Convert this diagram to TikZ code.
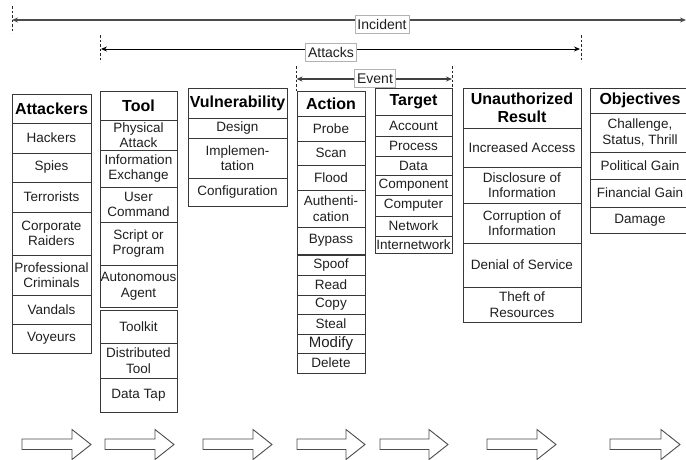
\documentclass[tikz,border=0pt]{standalone}
\usepackage{fontspec}
\setmainfont{Liberation Sans}
\usetikzlibrary{arrows.meta}
\tikzset{
  cell/.style={draw=black!78, line width=0.8pt, inner sep=0pt, outer sep=0pt, align=center,
    text=black!88, font=\fontsize{13.5}{15.5}\selectfont},
  headcell/.style={font=\fontsize{16}{17.5}\selectfont\bfseries, text=black},
  spanline/.style={{Stealth[length=6pt,width=5pt]}-{Stealth[length=6pt,width=5pt]}, line width=0.9pt},
  tick/.style={dashed, dash pattern=on 2.5pt off 2pt, line width=0.7pt, black!85},
  spanlabel/.style={fill=white, draw=black!30, line width=0.5pt, inner xsep=2.5pt, inner ysep=2pt,
    minimum height=18pt, font=\fontsize{14}{15}\selectfont, text=black!88},
  blockarrow/.style={draw=black!70, line width=0.9pt, fill=white}
}
% #1 extra style, #2 name, #3 x1, #4 x2, #5 y1, #6 y2, #7 text
\newcommand\cbox[7][]{%
  \pgfmathsetmacro\cbX{(#3+#4)/2}\pgfmathsetmacro\cbY{(#5+#6)/2}%
  \pgfmathsetmacro\cbW{#4-#3}\pgfmathsetmacro\cbH{#6-#5}%
  \node[cell, minimum width=\cbW pt, minimum height=\cbH pt, #1] (#2) at (\cbX,\cbY) {#7};}
% block arrow from x1 to x2
\newcommand\blkarrow[2]{%
  \pgfmathsetmacro\baH{#2-19}%
  \draw[blockarrow] (#1,439) -- (\baH,439) -- (\baH,429.5) -- (#2,444.5) -- (\baH,459.5) -- (\baH,449.5) -- (#1,449.5) -- cycle;}
\begin{document}
\begin{tikzpicture}[x=1pt,y=-1pt]
\useasboundingbox (0,0) rectangle (686,459);

% ---- span arrows ----
\coordinate (incL) at (12,20); \coordinate (incR) at (686,20);
\draw[tick] (12,6) -- (12,33);
\draw[spanline, black!70, line width=1.1pt] (incL) -- (incR);
\node[spanlabel] (incident) at (382,24.5) {Incident};

\coordinate (attL) at (101,49); \coordinate (attR) at (580,49);
\draw[tick] (100.5,35) -- (100.5,62);
\draw[tick] (581,35) -- (581,62);
\draw[spanline, black] (attL) -- (attR);
\node[spanlabel] (attacks) at (331,52) {Attacks};

\coordinate (evL) at (296.5,79); \coordinate (evR) at (452,79);
\draw[tick] (296,66) -- (296,91);
\draw[tick] (452.5,66) -- (452.5,91);
\draw[spanline, black!75, line width=1.2pt] (evL) -- (evR);
\node[spanlabel] (event) at (375,78.5) {Event};

% ---- Attackers ----
\cbox[headcell]{att0}{12}{91}{94}{123}{Attackers}
\cbox{att1}{12}{91}{123}{153}{Hackers}
\cbox{att2}{12}{91}{153}{182}{Spies}
\cbox{att3}{12}{91}{182}{212}{Terrorists}
\cbox{att4}{12}{91}{212}{255}{Corporate\\Raiders}
\cbox{att5}{12}{91}{255}{295}{Professional\\Criminals}
\cbox{att6}{12}{91}{295}{324}{Vandals}
\cbox{att7}{12}{91}{324}{353}{Voyeurs}

% ---- Tool ----
\cbox[headcell]{tool0}{100}{177}{91}{120}{Tool}
\cbox{tool1}{100}{177}{120}{150}{Physical\\Attack}
\cbox{tool2}{100}{177}{150}{187}{Information\\Exchange}
\cbox{tool3}{100}{177}{187}{222}{User\\Command}
\cbox{tool4}{100}{177}{222}{265}{Script or\\Program}
\cbox{tool5}{100}{177}{265}{307}{Autonomous\\Agent}
\cbox{tool6}{100}{177}{310}{343}{Toolkit}
\cbox{tool7}{100}{177}{343}{378}{Distributed\\Tool}
\cbox{tool8}{100}{177}{378}{412}{Data Tap}

% ---- Vulnerability ----
\cbox[headcell]{vul0}{188}{287}{88}{118}{Vulnerability}
\cbox{vul1}{188}{287}{118}{138}{Design}
\cbox{vul2}{188}{287}{138}{178}{Implemen-\\tation}
\cbox{vul3}{188}{287}{178}{206}{Configuration}

% ---- Action ----
\cbox[headcell]{act0}{297}{365}{91}{116}{Action}
\cbox{act1}{297}{365}{116}{141}{Probe}
\cbox{act2}{297}{365}{141}{165}{Scan}
\cbox{act3}{297}{365}{165}{190}{Flood}
\cbox{act4}{297}{365}{190}{227}{Authenti-\\cation}
\cbox{act5}{297}{365}{227}{254}{Bypass}
\cbox{act6}{297}{365}{255}{275}{Spoof}
\cbox{act7}{297}{365}{275}{295}{Read}
\cbox{act8}{297}{365}{295}{314}{Copy}
\cbox{act9}{297}{365}{314}{334}{Steal}
\cbox[font=\fontsize{15}{16}\selectfont]{act10}{297}{365}{334}{353}{Modify}
\cbox{act11}{297}{365}{353}{373}{Delete}

% ---- Target ----
\cbox[headcell]{tgt0}{375}{452}{88}{115}{Target}
\cbox{tgt1}{375}{452}{115}{136}{Account}
\cbox{tgt2}{375}{452}{136}{156}{Process}
\cbox{tgt3}{375}{452}{156}{175}{Data}
\cbox{tgt4}{375}{452}{175}{195}{Component}
\cbox{tgt5}{375}{452}{195}{216}{Computer}
\cbox{tgt6}{375}{452}{216}{236}{Network}
\cbox{tgt7}{375}{452}{236}{253}{Internetwork}

% ---- Unauthorized Result ----
\cbox[headcell]{res0}{463}{581}{88}{128}{Unauthorized\\Result}
\cbox{res1}{463}{581}{128}{167}{Increased Access}
\cbox{res2}{463}{581}{167}{203}{Disclosure of\\Information}
\cbox{res3}{463}{581}{203}{243}{Corruption of\\Information}
\cbox{res4}{463}{581}{243}{287}{Denial of Service}
\cbox{res5}{463}{581}{287}{322}{Theft of\\Resources}

% ---- Objectives ----
\cbox[headcell]{obj0}{590}{690}{88}{113}{Objectives}
\cbox{obj1}{590}{690}{113}{152}{Challenge,\\Status, Thrill}
\cbox{obj2}{590}{690}{152}{179}{Political Gain}
\cbox{obj3}{590}{690}{179}{207}{Financial Gain}
\cbox{obj4}{590}{690}{207}{233}{Damage}

% ---- block arrows ----
\blkarrow{22}{91}
\blkarrow{105}{174}
\blkarrow{203}{272}
\blkarrow{297}{365}
\blkarrow{380}{448}
\blkarrow{487}{556}
\blkarrow{610}{680}
\end{tikzpicture}
\end{document}
